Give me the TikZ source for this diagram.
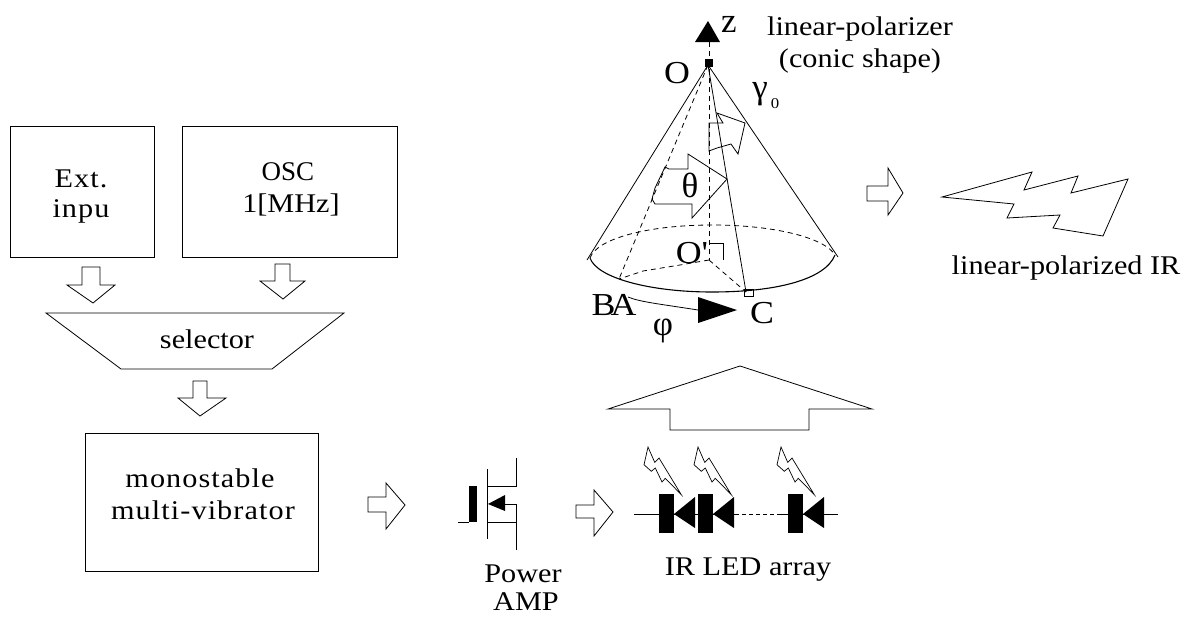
\documentclass[tikz,border=0pt]{standalone}
\usepackage{fontspec}
\setmainfont{Liberation Serif}
\newfontfamily\tnorm[FakeStretch=1.12]{Liberation Serif}
\newfontfamily\twide[FakeStretch=1.12,LetterSpace=4]{Liberation Serif}
\newfontfamily\tplain{Liberation Serif}
\tikzset{
  line/.style={line width=0.8pt,black,line join=miter},
  dashline/.style={line width=0.8pt,dash pattern=on 5pt off 4pt},
  boxlabel/.style={anchor=base,inner sep=0pt,font=\fontsize{27}{30}\selectfont\twide},
  txt/.style={anchor=base,inner sep=0pt,font=\fontsize{27}{30}\selectfont\tnorm},
  plaintxt/.style={anchor=base,inner sep=0pt,font=\fontsize{27}{30}\selectfont\tplain},
  big/.style={anchor=base,inner sep=0pt,font=\fontsize{32}{34}\selectfont\tnorm},
  greek/.style={anchor=base,inner sep=0pt,font=\fontsize{35}{36}\selectfont\tplain},
  blockbox/.style={draw,line width=0.8pt,inner sep=0pt},
}
\begin{document}
\begin{tikzpicture}[x=1pt,y=-1pt]
\useasboundingbox (0,0) rectangle (1185,616);
% boxes
\node[blockbox,minimum width=144pt,minimum height=131pt] (ext) at (82,191.5) {};
\node[blockbox,minimum width=215pt,minimum height=131pt] (osc) at (289.5,191.5) {};
\node[blockbox,minimum width=233pt,minimum height=138pt] (mono) at (201.5,502) {};
\node[boxlabel] (t1) at (81,187) {Ext.};
\node[boxlabel] (t2) at (81,217) {inpu};
\node[plaintxt] (t3) at (288,180) {OSC};
\node[txt] (t4) at (291,212) {1[MHz]};
\node[txt] (t5) at (207,348) {selector};
\node[boxlabel] (t6) at (200,487) {monostable};
\node[boxlabel] (t7) at (203,519) {multi-vibrator};
% selector
\draw[line] (46,313) -- (344,313) -- (272,369) -- (121,369) -- cycle;
% block arrows
\draw[line] (82,267) -- (100,267) -- (100,285) -- (115,285) -- (93,303) -- (67,285) -- (82,285) -- cycle;
\draw[line] (275,264) -- (290,264) -- (290,281) -- (305,281) -- (283,299) -- (260,281) -- (275,281) -- cycle;
\draw[line] (193,381) -- (207,381) -- (207,398) -- (226,398) -- (200,416) -- (178,398) -- (193,398) -- cycle;
\draw[line] (368,497) -- (386,497) -- (386,483) -- (405,505) -- (386,529) -- (386,512) -- (368,512) -- cycle;
\draw[line] (576,505) -- (594,505) -- (594,490) -- (613,512) -- (594,536) -- (594,518) -- (576,518) -- cycle;
\draw[line] (867,186) -- (888,186) -- (888,168) -- (903,193) -- (888,215) -- (888,201) -- (867,201) -- cycle;
\draw[line] (608,409) -- (740,366) -- (872,409) -- (809,409) -- (809,430) -- (670,430) -- (670,409) -- cycle;
% MOSFET
\fill (469,486) rectangle (477,522);
\coordinate (gate) at (469,522);
\coordinate (gatein) at (458,522);
\draw[line] (gatein) -- (gate);
\draw[line] (487,469) -- (487,539);
\draw[line] (487,486) -- (516,486) -- (516,458);
\draw[line] (487,522) -- (516,522);
\draw[line] (503,504) -- (516,504) -- (516,550);
\fill (488,504) -- (505,495) -- (505,511) -- cycle;
\node[txt] (pw) at (523,582) {Power};
\node[txt] (amp) at (526,610) {AMP};
% LED array
\coordinate (la) at (634,514);
\coordinate (lb) at (735,514);
\coordinate (lc) at (777,514);
\coordinate (ld) at (838,514);
\draw[line] (la) -- (lb);
\draw[line,dash pattern=on 4pt off 3pt] (lb) -- (lc);
\draw[line] (lc) -- (ld);
\foreach \x in {659,698,788}{
  \fill (\x,494) rectangle ++(15,39);
  \fill (\x+15,514) -- (\x+36,497) -- (\x+36,528) -- cycle;
}
\foreach \x in {648,698,781}{
  \draw[line width=0.7pt] (\x,447) -- ++(-4,17.7) -- ++(7.3,6.6) -- ++(4,-3.3) -- ++(6.7,14) -- ++(3.3,-3.7) -- ++(16,16.4) -- ++(-22.3,-36.7) -- ++(-4.3,4.3) -- cycle;
}
\node[txt] (led) at (748,575) {IR LED array};
% cone
\coordinate (apex) at (708,65);
\coordinate (L) at (587,260);
\coordinate (R) at (838,257);
\coordinate (Oc) at (709,260);
\coordinate (C) at (746,292);
\coordinate (B) at (619,279);
\draw[line] (L) -- (apex) -- (R);
\draw[line] (apex) -- (C);
\draw[line,line width=1.1pt] (590,258) .. controls (597,278) and (650,292) .. (712,292) .. controls (775,292) and (825,280) .. (835,255);
\draw[dashline] (590,258) .. controls (597,238) and (650,225) .. (712,225) .. controls (775,225) and (825,238) .. (835,255);
\draw[dashline] (apex) -- (B);
\draw[dashline] (709,42) -- (Oc);
\draw[dashline] (Oc) -- (C);
\draw[dashline] (Oc) -- (680,265) -- (643,271) -- (B);
\draw[line,line width=0.7pt] (710,243) -- (723,243) -- (723,260);
\draw[line,line width=0.7pt] (744,289) rectangle (753,296);
\fill (705,59) rectangle (713,67);
\fill (708,21) -- (720,42) -- (695,42) -- cycle;
% inner block arrows
\draw[line] (709,123) -- (723,123) -- (717,113) -- (745,123) -- (738,154) -- (731,144) -- (717,148) -- (709,151) -- cycle;
\draw[line] (665,167) -- (669,169) -- (688,169) -- (688,154) -- (727,179) -- (692,218) -- (692,204) -- (655,204) -- (652,199) -- (655,188) -- cycle;
% phi arrow
\node[big] (BB) at (603.5,315) {B};
\node[big] (AA) at (623.5,315) {A};
\coordinate (head) at (698,310);
\draw[line] (628,297) .. controls (640,302) and (660,304) .. (head);
\fill (698,297) -- (737,310) -- (698,323) -- cycle;
\node[big] (CC) at (762,323) {C};
\node[greek] (phi) at (663,335) {φ};
\node[big] (OO) at (677,83) {O};
\node[big] (Op) at (692,263) {O'};
\node[greek] (th) at (690,197) {θ};
\node[greek] (zz) at (729,32) {z};
\node[greek] (gam) at (760,98) {γ};
\node[anchor=base,inner sep=0pt,font=\fontsize{15}{17}\selectfont\tnorm] (g0) at (775,108) {0};
\node[txt] (lp1) at (860,35) {linear-polarizer};
\node[txt] (lp2) at (860,67) {(conic shape)};
% polarized bolt
\draw[line] (942,197) -- (1032,172) -- (1024,190) -- (1078,176) -- (1071,193) -- (1128,179) -- (1103,236) -- (1053,228) -- (1060,215) -- (1007,218) -- (1014,204) -- cycle;
\node[txt] (lpir) at (1066,274) {linear-polarized IR};
\end{tikzpicture}
\end{document}
